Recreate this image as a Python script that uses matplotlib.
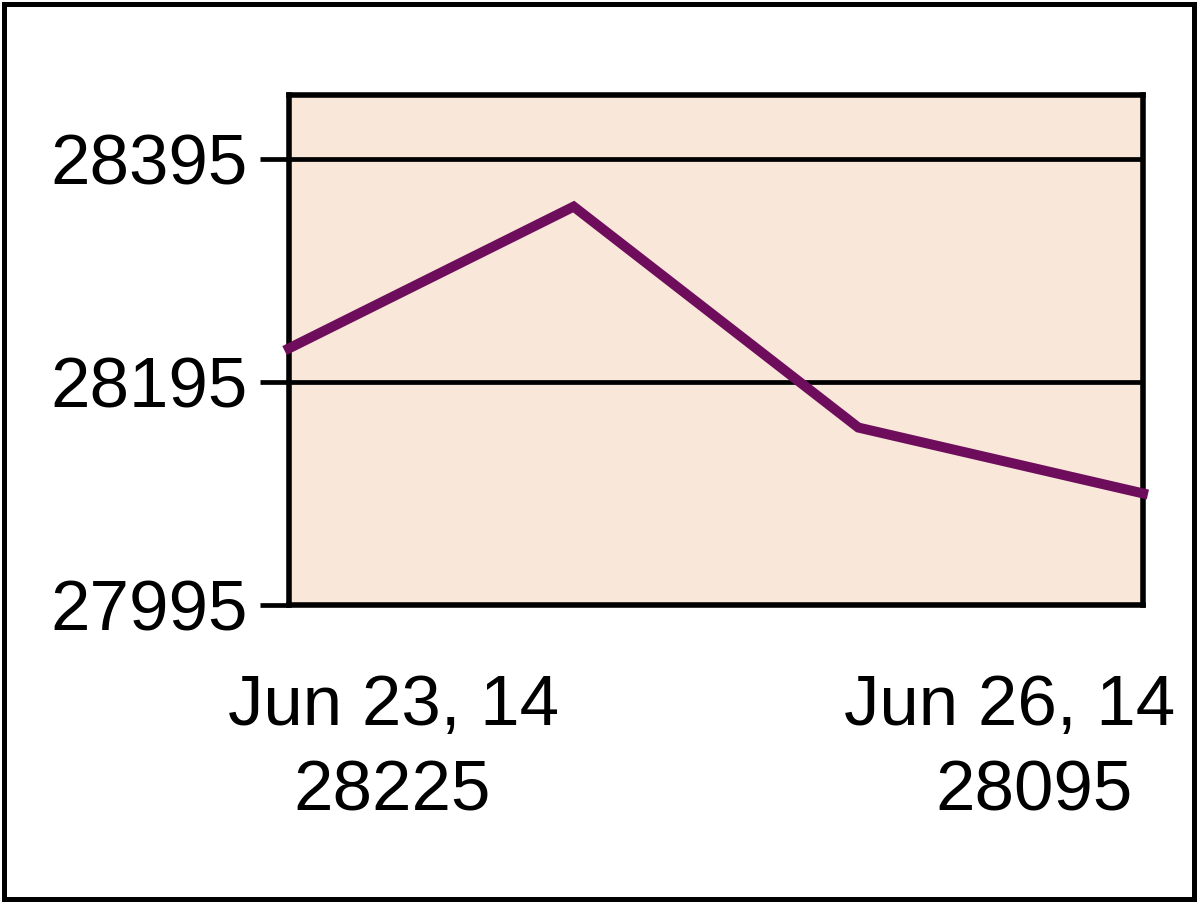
import matplotlib
matplotlib.use("Agg")
from matplotlib import pyplot as plt
from matplotlib.patches import Rectangle

plt.rcParams['font.family'] = ['Liberation Sans', 'DejaVu Sans']

# data
days = [0, 1, 2, 3]
prices = [28225, 28352, 28154, 28095]
first_date = "Jun 23, 14"
last_date = "Jun 26, 14"
yticks = [27995, 28195, 28395]

fig = plt.figure(figsize=(12, 9.08), dpi=100)
ax = fig.add_axes([289 / 1200, 1 - 605 / 908, 854 / 1200, 510 / 908])
ax.set_facecolor("#F9E7D9")

ax.plot(days, prices, color="#6E0D5C", linewidth=7.2, solid_joinstyle="miter",
        clip_on=False, zorder=3)

ax.set_xlim(days[0], days[-1])
ax.set_ylim(27995, 28452)
ax.set_yticks(yticks)
ax.set_yticklabels([str(v) for v in yticks])
ax.set_xticks([])
ax.yaxis.grid(True, color="black", linewidth=3.4)
ax.set_axisbelow(True)
ax.tick_params(axis="y", length=21, width=3.4, pad=9, labelsize=51, colors="black")
for s in ax.spines.values():
    s.set_linewidth(4)
    s.set_color("black")

fs = 51
# date / value labels below the plot
ax.text(0.123, -0.235, first_date, transform=ax.transAxes, ha="center",
        va="baseline", fontsize=fs)
ax.text(0.121, -0.402, str(prices[0]), transform=ax.transAxes, ha="center",
        va="baseline", fontsize=fs)
ax.text(0.844, -0.235, last_date, transform=ax.transAxes, ha="center",
        va="baseline", fontsize=fs)
ax.text(0.872, -0.402, str(prices[-1]), transform=ax.transAxes, ha="center",
        va="baseline", fontsize=fs)

# outer frame
fig.patches.append(Rectangle((4 / 1200, 1 - 899 / 908), 1190 / 1200, 895 / 908,
                             transform=fig.transFigure, fill=False,
                             edgecolor="black", linewidth=3.6))

fig.savefig("out.png", dpi=100)
